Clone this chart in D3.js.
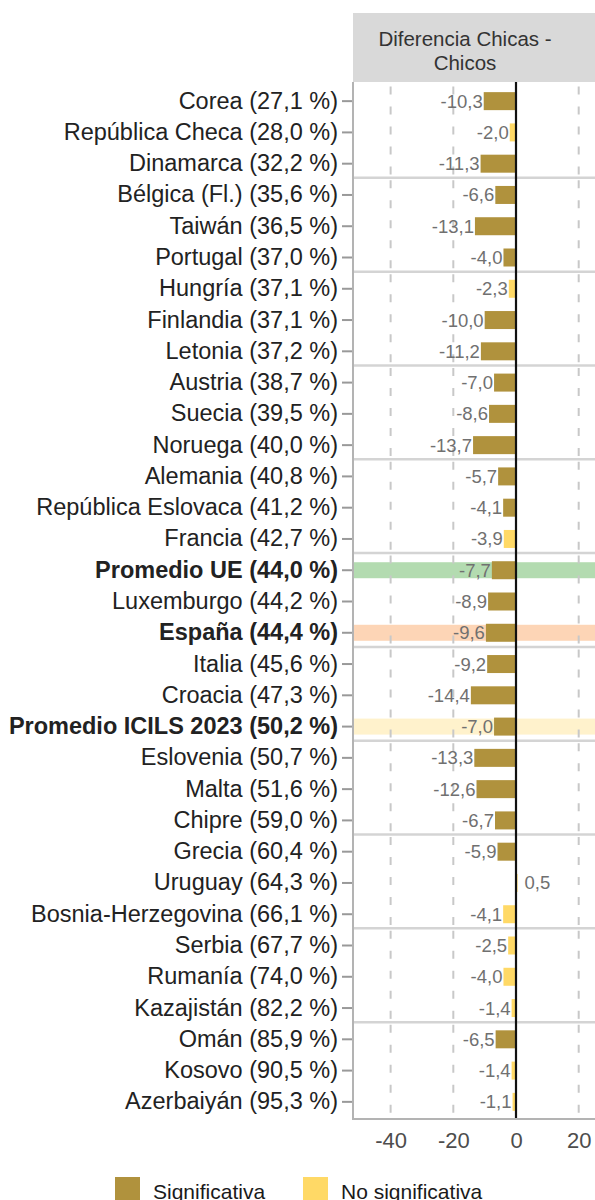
<!DOCTYPE html>
<html>
<head>
<meta charset="utf-8">
<script src="https://cdn.jsdelivr.net/npm/d3@7"></script>
<style>
  body { margin: 0; background: #fff; }
  svg { display: block; font-family: 'Liberation Sans', Arial, sans-serif; }
</style>
</head>
<body>
<svg width="595" height="1200"></svg>
<script>
const countries = [
  'Corea', 'República Checa', 'Dinamarca', 'Bélgica (Fl.)', 'Taiwán', 'Portugal',
  'Hungría', 'Finlandia', 'Letonia', 'Austria', 'Suecia', 'Noruega',
  'Alemania', 'República Eslovaca', 'Francia', 'Promedio UE', 'Luxemburgo', 'España',
  'Italia', 'Croacia', 'Promedio ICILS 2023', 'Eslovenia', 'Malta', 'Chipre',
  'Grecia', 'Uruguay', 'Bosnia-Herzegovina', 'Serbia', 'Rumanía', 'Kazajistán',
  'Omán', 'Kosovo', 'Azerbaiyán'
];
const pcts = [
  27.1, 28.0, 32.2, 35.6, 36.5, 37.0,
  37.1, 37.1, 37.2, 38.7, 39.5, 40.0,
  40.8, 41.2, 42.7, 44.0, 44.2, 44.4,
  45.6, 47.3, 50.2, 50.7, 51.6, 59.0,
  60.4, 64.3, 66.1, 67.7, 74.0, 82.2,
  85.9, 90.5, 95.3
];
const diffs = [
  -10.3, -2.0, -11.3, -6.6, -13.1, -4.0,
  -2.3, -10.0, -11.2, -7.0, -8.6, -13.7,
  -5.7, -4.1, -3.9, -7.7, -8.9, -9.6,
  -9.2, -14.4, -7.0, -13.3, -12.6, -6.7,
  -5.9, 0.5, -4.1, -2.5, -4.0, -1.4,
  -6.5, -1.4, -1.1
];
const significant = [
  1, 0, 1, 1, 1, 1,
  0, 1, 1, 1, 1, 1,
  1, 1, 0, 1, 1, 1,
  1, 1, 1, 1, 1, 1,
  1, 0, 0, 0, 0, 0,
  1, 0, 0
];
const highlighted = ['Promedio UE', 'España', 'Promedio ICILS 2023'];
const xTicks = [-40, -20, 0, 20];
const legendLabels = ['Significativa', 'No significativa'];
const headerLines = ['Diferencia Chicas -', 'Chicos'];

const SIG_COLOR = '#b0923d';
const NOSIG_COLOR = '#ffd966';
const HIGHLIGHT_COLORS = ['#b3dbb0', '#fdd5b6', '#fff2cc'];
const ROWS_PER_PANEL = 3;

const fmt = v => v.toFixed(1).replace('.', ',');

const rows = countries.map((c, i) => ({
  name: c,
  label: c + ' (' + fmt(pcts[i]) + ' %)',
  diff: diffs[i],
  sig: significant[i] === 1,
  bold: highlighted.includes(c)
}));

const svg = d3.select('svg');

const PANEL_LEFT = 353, PANEL_RIGHT = 595;
const PANEL_TOP = 82, PANEL_BOTTOM = 1119;

const x = d3.scaleLinear().domain([-52, 25.2]).range([PANEL_LEFT, PANEL_RIGHT]);
const y = d3.scaleBand().domain(countries).range([85.5, 1117.5]);
const step = y.step();
const cy = name => y(name) + step / 2;

// strip header
svg.append('rect')
  .attr('x', PANEL_LEFT).attr('y', 13)
  .attr('width', PANEL_RIGHT - PANEL_LEFT + 10).attr('height', PANEL_TOP - 13)
  .attr('fill', '#d9d9d9');

svg.append('g').selectAll('text')
  .data(headerLines).enter().append('text')
  .attr('x', 465)
  .attr('y', (d, i) => 38 + i * 24)
  .attr('text-anchor', 'middle')
  .attr('dominant-baseline', 'central')
  .attr('font-size', 20.5)
  .attr('fill', '#333')
  .text(d => d);

// highlight bands
svg.append('g').selectAll('rect')
  .data(highlighted).enter().append('rect')
  .attr('x', PANEL_LEFT).attr('width', PANEL_RIGHT - PANEL_LEFT)
  .attr('y', d => cy(d) - 8).attr('height', 16)
  .attr('fill', (d, i) => HIGHLIGHT_COLORS[i]);

// dashed vertical grid, restarting in each panel
const nPanels = Math.ceil(countries.length / ROWS_PER_PANEL);
const panels = d3.range(nPanels).map(p => ({
  top: y(countries[p * ROWS_PER_PANEL]),
  bottom: y(countries[Math.min(countries.length - 1, p * ROWS_PER_PANEL + ROWS_PER_PANEL - 1)]) + step
}));

const grid = svg.append('g');
panels.forEach(p => {
  grid.selectAll(null)
    .data(xTicks.filter(t => t !== 0)).enter().append('line')
    .attr('x1', d => x(d)).attr('x2', d => x(d))
    .attr('y1', p.top + 1).attr('y2', p.bottom - 1)
    .attr('stroke', '#c8c8c8')
    .attr('stroke-width', 2)
    .attr('stroke-dasharray', '8,12');
});

// panel separators
svg.append('g').selectAll('line')
  .data(panels.slice(1)).enter().append('line')
  .attr('x1', PANEL_LEFT).attr('x2', PANEL_RIGHT)
  .attr('y1', d => d.top - 1.5).attr('y2', d => d.top - 1.5)
  .attr('stroke', '#d4d4d4')
  .attr('stroke-width', 2.5);

// bars
svg.append('g').selectAll('rect')
  .data(rows).enter().append('rect')
  .attr('x', d => x(Math.min(0, d.diff)))
  .attr('width', d => Math.abs(x(d.diff) - x(0)))
  .attr('y', d => cy(d.name) - 9)
  .attr('height', 18)
  .attr('fill', d => d.sig ? SIG_COLOR : NOSIG_COLOR);

// value labels
svg.append('g').selectAll('text')
  .data(rows).enter().append('text')
  .attr('x', d => d.diff < 0 ? x(d.diff) - 1 : x(d.diff) + 7)
  .attr('y', d => cy(d.name))
  .attr('text-anchor', d => d.diff < 0 ? 'end' : 'start')
  .attr('dominant-baseline', 'central')
  .attr('font-size', 18.5)
  .attr('fill', '#707070')
  .text(d => fmt(d.diff));

// zero line
svg.append('line')
  .attr('x1', x(0)).attr('x2', x(0))
  .attr('y1', PANEL_TOP).attr('y2', PANEL_BOTTOM + 1)
  .attr('stroke', '#111')
  .attr('stroke-width', 2.2);

// axis lines
svg.append('path')
  .attr('d', `M${PANEL_LEFT},${PANEL_TOP}V${PANEL_BOTTOM}H${PANEL_RIGHT}`)
  .attr('fill', 'none')
  .attr('stroke', '#b3b3b3')
  .attr('stroke-width', 2);

// y axis: ticks and country labels
const yAxis = d3.axisLeft(y).tickSize(10).tickPadding(4)
  .tickFormat((d, i) => rows[i].label);
const yg = svg.append('g')
  .attr('transform', `translate(${PANEL_LEFT - 1},0)`)
  .call(yAxis);
yg.select('.domain').remove();
yg.selectAll('.tick line').attr('stroke', '#999').attr('stroke-width', 2);
yg.selectAll('.tick text')
  .attr('font-size', 23.5)
  .attr('font-family', "'Liberation Sans', Arial, sans-serif")
  .attr('fill', '#222')
  .attr('font-weight', (d, i) => rows[i].bold ? 'bold' : 'normal');

// x axis
const xAxis = d3.axisBottom(x).tickValues(xTicks).tickSize(0).tickPadding(13)
  .tickFormat(d => String(d));
const xg = svg.append('g')
  .attr('transform', `translate(0,${PANEL_BOTTOM})`)
  .call(xAxis);
xg.select('.domain').remove();
xg.selectAll('.tick text')
  .attr('font-size', 22)
  .attr('font-family', "'Liberation Sans', Arial, sans-serif")
  .attr('fill', '#4d4d4d');

// legend
const legendX = [115, 303];
const legendColors = [SIG_COLOR, NOSIG_COLOR];
const lg = svg.append('g').selectAll('g')
  .data(legendLabels).enter().append('g')
  .attr('transform', (d, i) => `translate(${legendX[i]},1177)`);
lg.append('rect')
  .attr('width', 25).attr('height', 25)
  .attr('fill', (d, i) => legendColors[i]);
lg.append('text')
  .attr('x', 38).attr('y', 14)
  .attr('dominant-baseline', 'central')
  .attr('font-size', 21)
  .attr('fill', '#1a1a1a')
  .text(d => d);
</script>
</body>
</html>
